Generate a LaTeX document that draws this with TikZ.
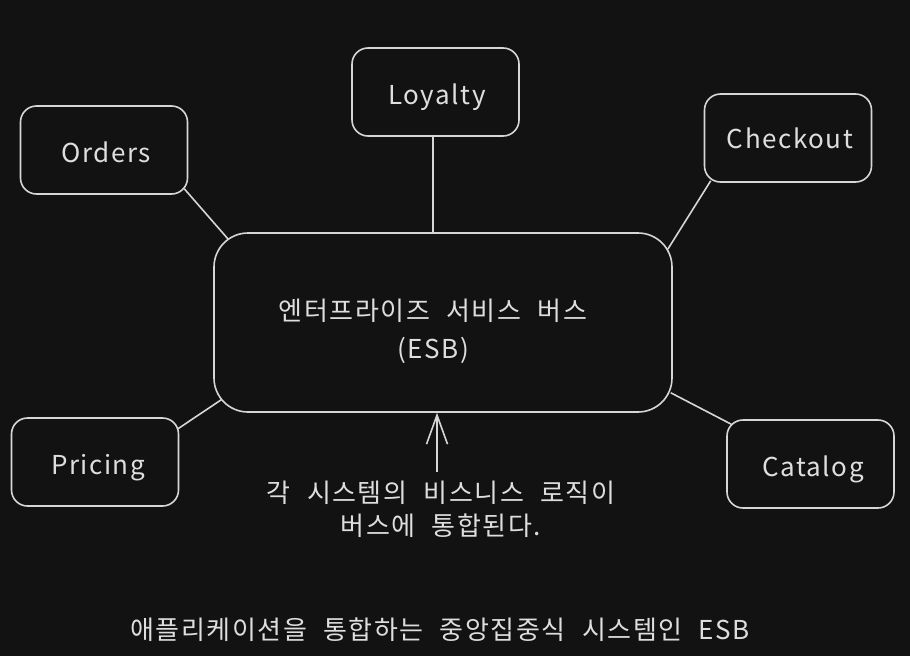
\documentclass[tikz,border=0pt]{standalone}
\usepackage{fontspec}
\setmainfont[LetterSpace=6,WordSpace=2.2]{Noto Sans CJK KR}
\usetikzlibrary{arrows.meta,calc}
\definecolor{bg}{HTML}{121212}
\definecolor{ink}{HTML}{D6D6D6}
\definecolor{txt}{HTML}{DEDEDE}
\begin{document}
\begin{tikzpicture}[x=1pt,y=-1pt,
  line width=1.6pt,
  box/.style={draw=ink, fill=bg, rounded corners=16pt, minimum width=167pt, minimum height=88pt, inner sep=0pt},
  bigbox/.style={draw=ink, fill=bg, rounded corners=34pt, minimum width=458pt, minimum height=179pt, inner sep=0pt},
  lbl/.style={text=txt, align=center, inner sep=0pt},
  boxtxt/.style={text=txt, inner sep=0pt, anchor=base, font=\fontsize{26}{30}\selectfont},
  conn/.style={draw=ink},
  tip/.style={-{Straight Barb[length=29pt,width=21pt]}}]
\fill[bg] (0,0) rectangle (910,656);
\useasboundingbox (0,0) rectangle (910,656);

\node[bigbox] (esb) at (443,322.5) {};
\node[lbl, font=\fontsize{26}{38}\selectfont] (esbl) at ($(esb.center)+(-10,9)$) {엔터프라이즈 서비스 버스\\(ESB)};

\node[box] (orders)   at (104,150) {};
\node[box] (loyalty)  at (435.5,92) {};
\node[box] (checkout) at (788,138) {};
\node[box] (pricing)  at (95,462) {};
\node[box] (catalog)  at (810.5,464) {};
\node[boxtxt] (ordersl)   at (106,162) {Orders};
\node[boxtxt] (loyaltyl)  at (437,104) {Loyalty};
\node[boxtxt] (checkoutl) at (790,148) {Checkout};
\node[boxtxt] (pricingl)  at (98,474) {Pricing};
\node[boxtxt] (catalogl)  at (813,476) {Catalog};

\draw[conn] ($(orders.south east)+(-4,-6)$) -- ($(esb.north west)+(15,7)$);
\coordinate (lt) at ($(loyalty.south)+(-2.5,0)$);
\draw[conn] (lt) -- (esb.north -| lt);
\draw[conn] ($(checkout.south west)+(7,-2)$) -- ($(esb.north east)+(-5,17)$);
\draw[conn] ($(pricing.north east)+(-2,12)$) -- ($(esb.south west)+(8,-13)$);
\draw[conn] ($(catalog.north west)+(5,5)$) -- ($(esb.south east)+(-2,-20)$);

\node[lbl, font=\fontsize{26}{33}\selectfont] (lab) at (441,509) {각 시스템의 비스니스 로직이\\버스에 통합된다.};
\coordinate (astart) at (437,472);
\draw[conn, tip] (astart) -- (esb.south -| astart);

\node[lbl, font=\fontsize{26}{30}\selectfont] (title) at (440,630) {애플리케이션을 통합하는 중앙집중식 시스템인 ESB};
\end{tikzpicture}
\end{document}
